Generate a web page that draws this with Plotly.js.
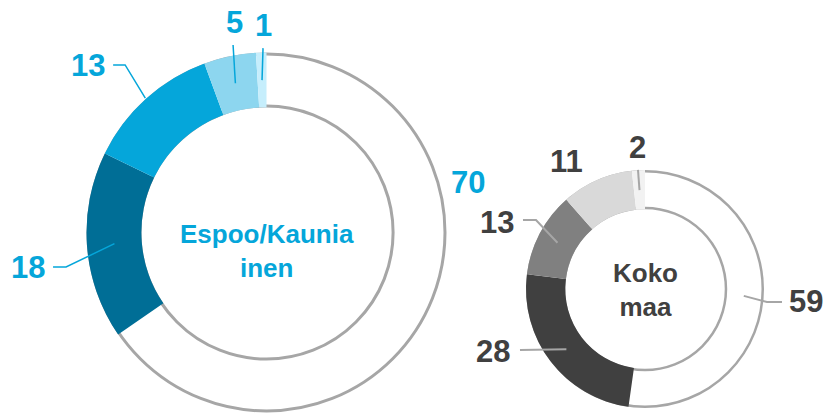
<!DOCTYPE html>
<html>
<head>
<meta charset="utf-8">
<script src="https://cdn.plot.ly/plotly-3.0.1.min.js"></script>
<style>html,body{margin:0;padding:0;background:#fff;}#chart{width:827px;height:413px;}</style>
</head>
<body>
<div id="chart"></div>
<script>
// ---- data ----
const espooTitle = 'Espoo/Kaunia<br>inen';
const espooValues = [70, 18, 13, 5, 1];
const kokoTitle = 'Koko<br>maa';
const kokoValues = [59, 28, 13, 11, 2];

// ---- style ----
const W = 827, H = 413;
const FONT = 'Liberation Sans, Arial, sans-serif';
const blue = '#05A6DA';
const darkText = '#404040';
const ringGray = '#A6A6A6';

const donuts = [
  {
    values: espooValues, title: espooTitle, cx: 266.5, cy: 232.5, R: 180, hole: 0.695,
    colors: ['rgba(0,0,0,0)', '#006E96', blue, '#8DD6EF', '#C6EEFC'],
    textColor: blue, lineColor: blue, lineWidth: 1.5, ringWidth: 3, titleDy: 18,
    labels: [
      {r: 0.847, pts: [], text: [66.5, -120.7]},
      {r: 0.847, pts: [[-48.4, 23.3], [-61.4, 23.3]], text: [-86.4, 24.3]},
      {r: 1.005, pts: [[-20.2, -33.2], [-32.2, -33.2]], text: [-57.2, -32.2]},
      {r: 0.847, pts: [[-2.3, -38.2]], text: [-1.3, -61.2]},
      {r: 0.847, pts: [[1, -32]], text: [1, -55]}
    ]
  },
  {
    values: kokoValues, title: kokoTitle, cx: 645, cy: 289, R: 119, hole: 0.67,
    colors: ['rgba(0,0,0,0)', '#404040', '#808080', '#D9D9D9', '#F2F2F2'],
    textColor: darkText, lineColor: ringGray, lineWidth: 2, ringWidth: 2.5, titleDy: 1,
    labels: [
      {r: 0.832, pts: [[23.2, 6.1], [38.2, 6.1]], text: [62.2, 6.1]},
      {r: 0.832, pts: [[-46.4, 0.8]], text: [-73.4, 2.8]},
      {r: 0.832, pts: [[-21.5, -22.7], [-34.5, -22.7]], text: [-60.5, -20.7]},
      {r: 0.832, pts: [], text: [-37.9, -36.5]},
      {r: 0.832, pts: [[-1.5, -20.2]], text: [-1.5, -42.2]}
    ]
  }
];

const px = x => x / W;
const py = y => 1 - y / H;

const traces = [];
const shapes = [];
const annotations = [];

donuts.forEach(d => {
  traces.push({
    type: 'pie',
    values: d.values,
    labels: d.values.map((v, i) => 'c' + i + '_' + d.title),
    sort: false,
    direction: 'clockwise',
    rotation: 0,
    hole: d.hole,
    textinfo: 'none',
    hoverinfo: 'skip',
    showlegend: false,
    marker: {colors: d.colors, line: {width: 0}},
    domain: {x: [px(d.cx - d.R), px(d.cx + d.R)], y: [py(d.cy + d.R), py(d.cy - d.R)]}
  });
  // grey outline circles (seen through the transparent first slice)
  const rIn = d.R * d.hole;
  [d.R - d.ringWidth / 2, rIn + d.ringWidth / 2].forEach(r => {
    shapes.push({
      type: 'circle', xref: 'paper', yref: 'paper', layer: 'below',
      x0: px(d.cx - r), x1: px(d.cx + r), y0: py(d.cy + r), y1: py(d.cy - r),
      line: {color: ringGray, width: d.ringWidth}, fillcolor: 'rgba(0,0,0,0)'
    });
  });
  // centre title
  annotations.push({
    xref: 'paper', yref: 'paper', x: px(d.cx), y: py(d.cy + d.titleDy),
    text: '<b>' + d.title + '</b>', showarrow: false,
    xanchor: 'center', yanchor: 'middle', align: 'center',
    font: {family: FONT, size: 26, color: d.textColor}
  });
  // value labels with leader lines, anchored at slice mid-angles
  const total = d.values.reduce((a, b) => a + b, 0);
  let cum = 0;
  d.values.forEach((v, i) => {
    const frac = (cum + v / 2) / total;
    cum += v;
    const th = frac * 2 * Math.PI;
    const L = d.labels[i];
    const ax = d.cx + L.r * d.R * Math.sin(th);
    const ay = d.cy - L.r * d.R * Math.cos(th);
    if (L.pts.length) {
      let path = 'M' + px(ax) + ',' + py(ay);
      L.pts.forEach(p => { path += ' L' + px(ax + p[0]) + ',' + py(ay + p[1]); });
      shapes.push({type: 'path', xref: 'paper', yref: 'paper', path: path,
        line: {color: d.lineColor, width: d.lineWidth}});
    }
    annotations.push({
      xref: 'paper', yref: 'paper', x: px(ax + L.text[0]), y: py(ay + L.text[1]),
      text: '<b>' + v + '</b>', showarrow: false, xanchor: 'center', yanchor: 'middle',
      font: {family: FONT, size: 31, color: d.textColor}
    });
  });
});

const layout = {
  width: W, height: H,
  margin: {l: 0, r: 0, t: 0, b: 0},
  paper_bgcolor: '#ffffff',
  showlegend: false,
  shapes: shapes,
  annotations: annotations
};

Plotly.newPlot('chart', traces, layout, {displayModeBar: false, staticPlot: true});
</script>
</body>
</html>
